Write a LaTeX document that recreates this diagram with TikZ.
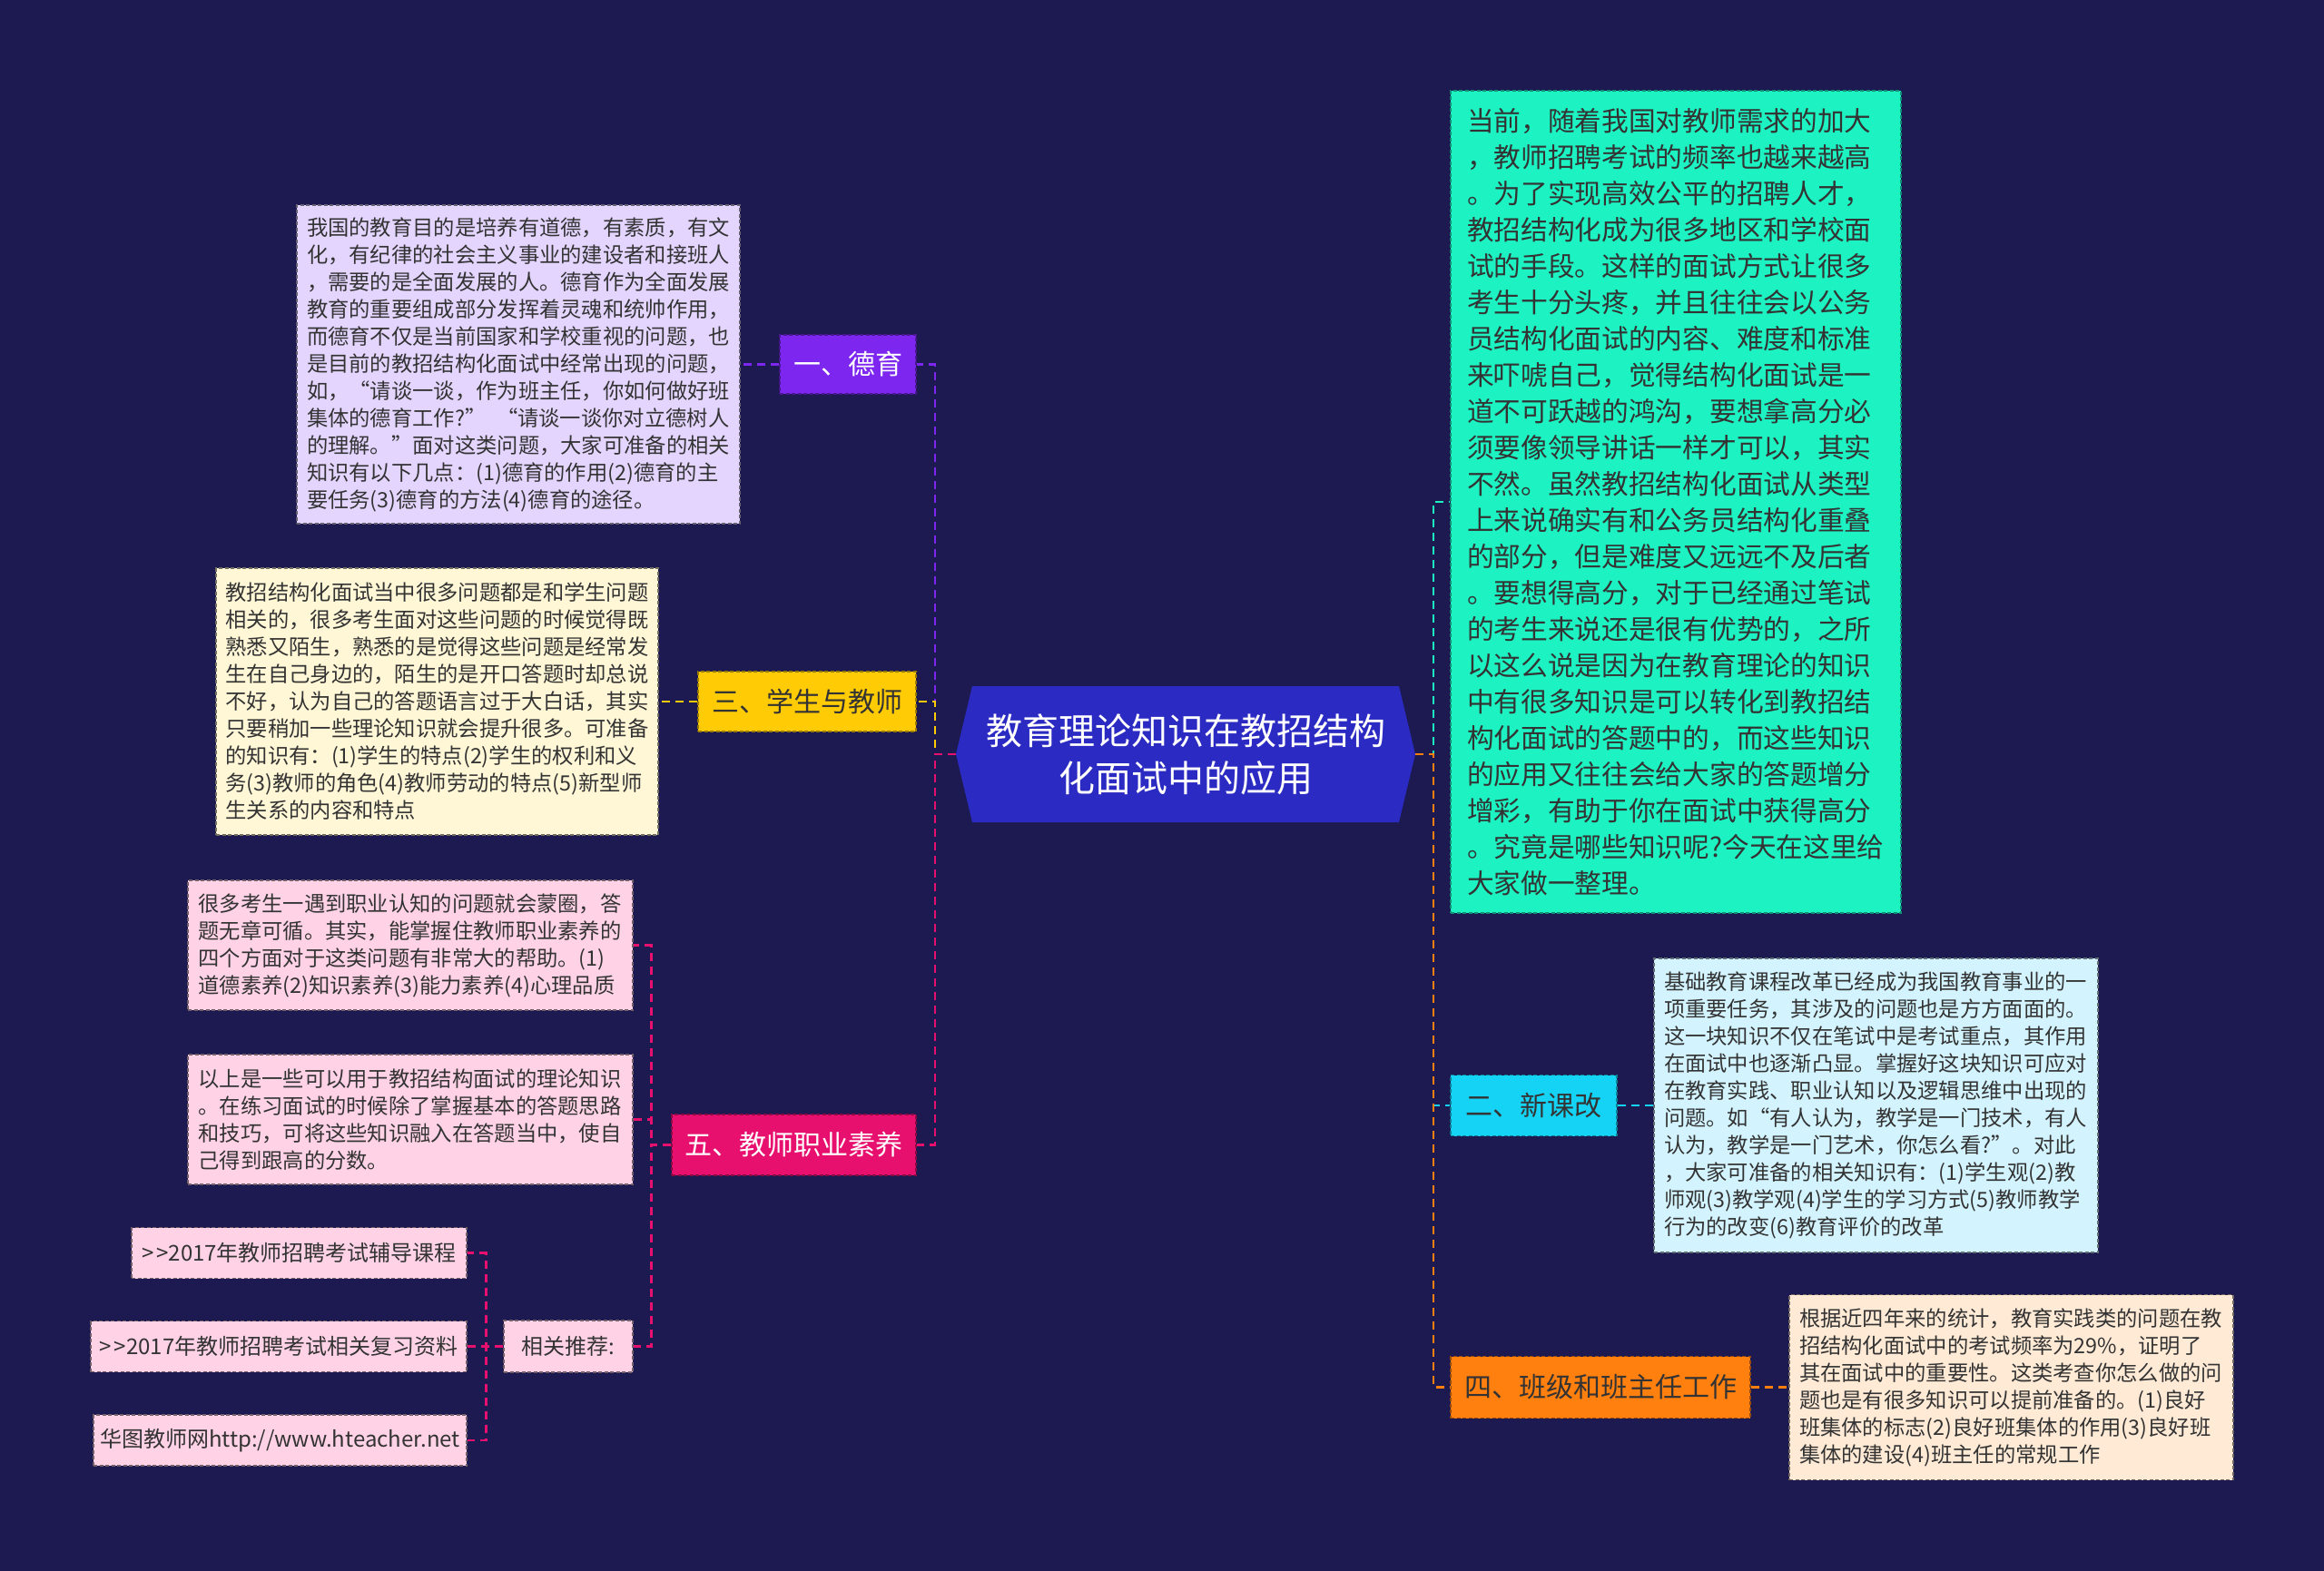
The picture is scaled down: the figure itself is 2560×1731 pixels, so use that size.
\documentclass[tikz,border=0pt]{standalone}
\usepackage{fontspec}
\setmainfont{Noto Sans CJK SC}
\usetikzlibrary{shapes.symbols}
\definecolor{bg}{HTML}{1C1A50}
\definecolor{rootC}{HTML}{2B2BC3}
\definecolor{purC}{HTML}{7D26F0}
\definecolor{yelC}{HTML}{FFCB05}
\definecolor{pinkC}{HTML}{E8106E}
\definecolor{aquaC}{HTML}{1DF2C2}
\definecolor{cyanC}{HTML}{15D3F5}
\definecolor{orC}{HTML}{FF7F0F}
\definecolor{lavC}{HTML}{E4D5FF}
\definecolor{lyelC}{HTML}{FFF7D6}
\definecolor{lpinkC}{HTML}{FFD3E5}
\definecolor{lcyanC}{HTML}{D3F4FF}
\definecolor{peachC}{HTML}{FFEAD6}
\definecolor{darktext}{HTML}{333333}
\begin{document}
\begin{tikzpicture}[x=1pt,y=-1pt,
  box/.style={rectangle, dashed, dash pattern=on 4pt off 2.5pt, line width=1.2pt, inner sep=0pt, anchor=center},
  leaf/.style={box, align=left, font=\fontsize{23.3}{30}\selectfont, text=darktext},
  linkbox/.style={leaf, font=\fontsize{24}{30}\selectfont},
  branch/.style={box, align=center, font=\fontsize{30}{36}\selectfont},
  conn/.style={line width=2.5pt, dash pattern=on 9pt off 6pt}]
\fill[bg] (0,0) rectangle (2560,1731);
\useasboundingbox (0,0) rectangle (2560,1731);

% root
\node[signal, signal to=west and east, signal pointer angle=153, fill=rootC, draw=none,
  minimum width=506pt, minimum height=150pt, inner sep=0pt, text=white, align=center,
  font=\fontsize{40}{52}\selectfont] (root) at (1306,831) {教育理论知识在教招结构\\化面试中的应用};

% left branches
\node[branch, fill=purC, draw=purC!60!black, text=white, minimum width=150pt, minimum height=65pt] (b1) at (934,401.5) {一、德育};
\node[branch, fill=yelC, draw=yelC!60!black, text=darktext, minimum width=240pt, minimum height=66pt] (b3) at (889,773) {三、学生与教师};
\node[branch, fill=pinkC, draw=pinkC!60!black, text=white, minimum width=269pt, minimum height=67pt] (b5) at (874.5,1261.5) {五、教师职业素养};

% right branches
\node[box, fill=aquaC, draw=aquaC!60!black, text=darktext, align=left, font=\fontsize{29.7}{40}\selectfont,
  minimum width=496pt, minimum height=906pt, text width=460pt] (big) at (1846,553) {当前，随着我国对教师需求的加大\\，教师招聘考试的频率也越来越高\\。为了实现高效公平的招聘人才，\\教招结构化成为很多地区和学校面\\试的手段。这样的面试方式让很多\\考生十分头疼，并且往往会以公务\\员结构化面试的内容、难度和标准\\来吓唬自己，觉得结构化面试是一\\道不可跃越的鸿沟，要想拿高分必\\须要像领导讲话一样才可以，其实\\不然。虽然教招结构化面试从类型\\上来说确实有和公务员结构化重叠\\的部分，但是难度又远远不及后者\\。要想得高分，对于已经通过笔试\\的考生来说还是很有优势的，之所\\以这么说是因为在教育理论的知识\\中有很多知识是可以转化到教招结\\构化面试的答题中的，而这些知识\\的应用又往往会给大家的答题增分\\增彩，有助于你在面试中获得高分\\。究竟是哪些知识呢?今天在这里给\\大家做一整理。};
\node[branch, fill=cyanC, draw=cyanC!60!black, text=darktext, minimum width=183pt, minimum height=67pt] (b2) at (1689.5,1218) {二、新课改};
\node[branch, fill=orC, draw=orC!60!black, text=darktext, minimum width=330pt, minimum height=68pt] (b4) at (1763,1528.5) {四、班级和班主任工作};

% leaves
\node[leaf, fill=lavC, draw=lavC!45!black, minimum width=488pt, minimum height=351pt, text width=466pt] (l1) at (571,401.5) {我国的教育目的是培养有道德，有素质，有文\\化，有纪律的社会主义事业的建设者和接班人\\，需要的是全面发展的人。德育作为全面发展\\教育的重要组成部分发挥着灵魂和统帅作用，\\而德育不仅是当前国家和学校重视的问题，也\\是目前的教招结构化面试中经常出现的问题，\\如，“请谈一谈，作为班主任，你如何做好班\\集体的德育工作?” “请谈一谈你对立德树人\\的理解。”面对这类问题，大家可准备的相关\\知识有以下几点：(1)德育的作用(2)德育的主\\要任务(3)德育的方法(4)德育的途径。};
\node[leaf, fill=lyelC, draw=lyelC!45!black, minimum width=487pt, minimum height=294pt, text width=466pt] (l3) at (481.5,773) {教招结构化面试当中很多问题都是和学生问题\\相关的，很多考生面对这些问题的时候觉得既\\熟悉又陌生，熟悉的是觉得这些问题是经常发\\生在自己身边的，陌生的是开口答题时却总说\\不好，认为自己的答题语言过于大白话，其实\\只要稍加一些理论知识就会提升很多。可准备\\的知识有：(1)学生的特点(2)学生的权利和义\\务(3)教师的角色(4)教师劳动的特点(5)新型师\\生关系的内容和特点};
\node[leaf, fill=lpinkC, draw=lpinkC!45!black, minimum width=490pt, minimum height=143pt, text width=467pt] (l5a) at (452,1041.5) {很多考生一遇到职业认知的问题就会蒙圈，答\\题无章可循。其实，能掌握住教师职业素养的\\四个方面对于这类问题有非常大的帮助。(1)\\道德素养(2)知识素养(3)能力素养(4)心理品质};
\node[leaf, fill=lpinkC, draw=lpinkC!45!black, minimum width=490pt, minimum height=143pt, text width=467pt] (l5b) at (452,1233.5) {以上是一些可以用于教招结构面试的理论知识\\。在练习面试的时候除了掌握基本的答题思路\\和技巧，可将这些知识融入在答题当中，使自\\己得到跟高的分数。};
\node[linkbox, fill=lpinkC, draw=lpinkC!45!black, minimum width=142pt, minimum height=57pt] (rec) at (626,1483.5) {相关推荐:};
\node[linkbox, fill=lpinkC, draw=lpinkC!45!black, minimum width=369pt, minimum height=56pt] (r1) at (329.5,1380.5) {>\kern3pt>2017年教师招聘考试辅导课程};
\node[linkbox, fill=lpinkC, draw=lpinkC!45!black, minimum width=414pt, minimum height=56pt] (r2) at (307,1483.5) {>\kern3pt>2017年教师招聘考试相关复习资料};
\node[linkbox, fill=lpinkC, draw=lpinkC!45!black, minimum width=411pt, minimum height=56pt] (r3) at (308.5,1587) {华图教师网http://www.hteacher.net};
\node[leaf, fill=lcyanC, draw=lcyanC!45!black, minimum width=489pt, minimum height=324pt, text width=467pt] (l2) at (2066.5,1218) {基础教育课程改革已经成为我国教育事业的一\\项重要任务，其涉及的问题也是方方面面的。\\这一块知识不仅在笔试中是考试重点，其作用\\在面试中也逐渐凸显。掌握好这块知识可应对\\在教育实践、职业认知以及逻辑思维中出现的\\问题。如“有人认为，教学是一门技术，有人\\认为，教学是一门艺术，你怎么看?”。对此\\，大家可准备的相关知识有：(1)学生观(2)教\\师观(3)教学观(4)学生的学习方式(5)教师教学\\行为的改变(6)教育评价的改革};
\node[leaf, fill=peachC, draw=peachC!45!black, minimum width=489pt, minimum height=204pt, text width=467pt] (l4) at (2215.5,1528.5) {根据近四年来的统计，教育实践类的问题在教\\招结构化面试中的考试频率为29\%，证明了\\其在面试中的重要性。这类考查你怎么做的问\\题也是有很多知识可以提前准备的。(1)良好\\班集体的标志(2)良好班集体的作用(3)良好班\\集体的建设(4)班主任的常规工作};

% connectors root -> branches
\draw[conn, draw=purC] (root.west) -- ++(-23,0) |- (b1.east);
\draw[conn, draw=yelC] (root.west) -- ++(-23,0) |- (b3.east);
\draw[conn, draw=pinkC] (root.west) -- ++(-23,0) |- (b5.east);
\draw[conn, draw=aquaC] (root.east) -- ++(20,0) |- (big.west);
\draw[conn, draw=cyanC] (root.east) -- ++(20,0) |- (b2.west);
\draw[conn, draw=orC] (root.east) -- ++(20,0) |- (b4.west);

% branches -> leaves
\draw[conn, draw=purC] (b1.west) -- (l1.east);
\draw[conn, draw=yelC] (b3.west) -- (l3.east);
\draw[conn, draw=pinkC] (b5.west) -- ++(-22,0) |- (l5a.east);
\draw[conn, draw=pinkC] (b5.west) -- ++(-22,0) |- (l5b.east);
\draw[conn, draw=pinkC] (b5.west) -- ++(-22,0) |- (rec.east);
\draw[conn, draw=pinkC] (rec.west) -- ++(-19,0) |- (r1.east);
\draw[conn, draw=pinkC] (rec.west) -- ++(-19,0) |- (r2.east);
\draw[conn, draw=pinkC] (rec.west) -- ++(-19,0) |- (r3.east);
\draw[conn, draw=cyanC] (b2.east) -- (l2.west);
\draw[conn, draw=orC] (b4.east) -- (l4.west);
\end{tikzpicture}
\end{document}
